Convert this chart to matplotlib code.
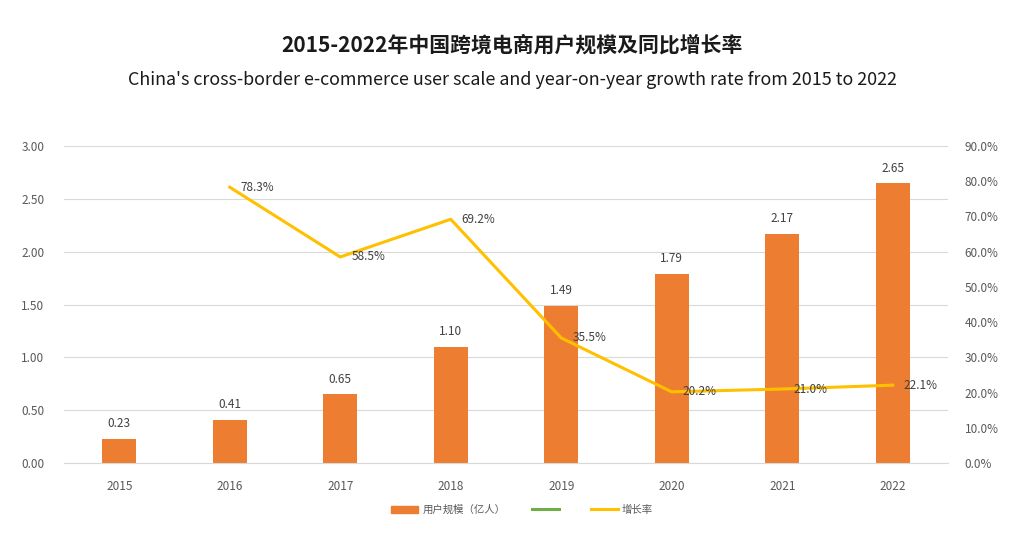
import matplotlib
matplotlib.use("Agg")
import matplotlib.pyplot as plt
import numpy as np

plt.rcParams['font.family'] = ['Noto Sans CJK SC', 'DejaVu Sans']

years = ["2015", "2016", "2017", "2018", "2019", "2020", "2021", "2022"]
users = [0.23, 0.41, 0.65, 1.10, 1.49, 1.79, 2.17, 2.65]
growth_years = ["2016", "2017", "2018", "2019", "2020", "2021", "2022"]
growth = [78.3, 58.5, 69.2, 35.5, 20.2, 21.0, 22.1]

title_cn = "2015-2022年中国跨境电商用户规模及同比增长率"
title_en = "China's cross-border e-commerce user scale and year-on-year growth rate from 2015 to 2022"
bar_label = "用户规模（亿人）"
green_label = ""
line_label = "增长率"

BAR_C = "#ED7D31"
LINE_C = "#FFC000"
GREEN_C = "#70AD47"
TICK_C = "#595959"

fig = plt.figure(figsize=(10.24, 5.45), dpi=100)
ax = fig.add_axes([64/1024, 1-463/545, (948-64)/1024, (463-146)/545])
x = np.arange(len(years))
ax.bar(x, users, width=0.31, color=BAR_C, zorder=2, label=bar_label)
for xi, v in zip(x, users):
    ax.text(xi, v + 0.08, f"{v:.2f}", ha="center", va="bottom", fontsize=8.5, color="#404040")
ax.set_ylim(0, 3.0)
ax.set_xlim(-0.5, len(years) - 0.5)
ax.set_yticks(np.arange(0, 3.01, 0.5))
ax.set_yticklabels([f"{v:.2f}" for v in np.arange(0, 3.01, 0.5)])
ax.set_xticks(x)
ax.set_xticklabels(years)
ax.grid(axis="y", color="#D9D9D9", linewidth=0.8, zorder=0)
ax.set_axisbelow(True)
for s in ["top", "right", "left"]:
    ax.spines[s].set_visible(False)
ax.spines["bottom"].set_color("#D9D9D9")
ax.tick_params(axis="both", length=0, labelsize=8.5, colors=TICK_C, pad=12)
ax.tick_params(axis="y", pad=14)

ax2 = ax.twinx()
gx = [years.index(y) for y in growth_years]
ax2.plot(gx, growth, color=LINE_C, linewidth=2.2, zorder=3, label=line_label)
for xi, v in zip(gx, growth):
    ax2.text(xi + 0.1, v, f"{v:.1f}%", ha="left", va="center", fontsize=8.5, color="#404040")
ax2.set_ylim(0, 90)
ax2.set_yticks(np.arange(0, 91, 10))
ax2.set_yticklabels([f"{v:.1f}%" for v in np.arange(0, 91, 10)])
for s in ["top", "right", "left", "bottom"]:
    ax2.spines[s].set_visible(False)
ax2.tick_params(axis="y", length=0, labelsize=8.5, colors=TICK_C, pad=12)

from matplotlib.patches import Patch
from matplotlib.lines import Line2D
handles = [Patch(color=BAR_C, label=bar_label),
           Line2D([0], [0], color=GREEN_C, linewidth=2.2, label=green_label),
           Line2D([0], [0], color=LINE_C, linewidth=2.2, label=line_label)]
fig.legend(handles=handles, loc="center", bbox_to_anchor=(522/1024, 1-510/545), ncol=3,
           frameon=False, fontsize=7.5, handlelength=2.6, columnspacing=2.6, handletextpad=0.4,
           labelcolor=TICK_C)

fig.text(0.5, 1-45/545, title_cn, ha="center", va="center", fontsize=15, fontweight="bold", color="#1a1a1a")
fig.text(0.5, 1-80/545, title_en, ha="center", va="center", fontsize=12.9, color="#1a1a1a")

fig.savefig("out.png", dpi=100, facecolor="white")
